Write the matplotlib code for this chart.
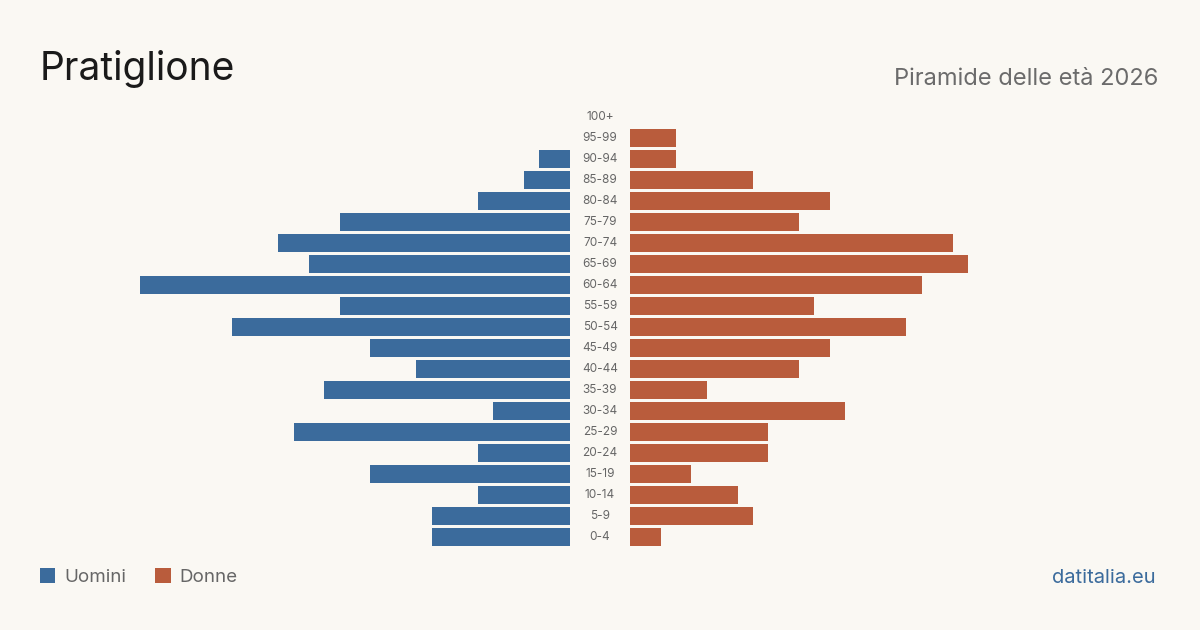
import matplotlib.pyplot as plt
import numpy as np

# age classes, bottom to top
age_groups = ["0-4", "5-9", "10-14", "15-19", "20-24", "25-29", "30-34", "35-39",
              "40-44", "45-49", "50-54", "55-59", "60-64", "65-69", "70-74", "75-79",
              "80-84", "85-89", "90-94", "95-99", "100+"]
men = [9, 9, 6, 13, 6, 18, 5, 16, 10, 13, 22, 15, 28, 17, 19, 15, 6, 3, 2, 0, 0]
women = [2, 8, 7, 4, 9, 9, 14, 5, 11, 13, 18, 12, 19, 22, 21, 11, 13, 8, 3, 3, 0]

BG = "#faf8f3"
BLUE = "#3b6b9c"
ORANGE = "#b95c3c"

plt.rcParams["font.family"] = ["Inter", "DejaVu Sans"]

fig = plt.figure(figsize=(12, 6.3), dpi=100, facecolor=BG)

W, H = 1200, 630
top_px, bot_px = 106.5, 547.5
ax_b = 1 - bot_px / H
ax_h = (bot_px - top_px) / H
xmax = 530 / 15.36

ax_l = fig.add_axes([40 / W, ax_b, 530 / W, ax_h])
ax_r = fig.add_axes([630 / W, ax_b, 530 / W, ax_h])

y = np.arange(len(age_groups))
bars_m = ax_l.barh(y, men, height=0.81, color=BLUE, label="Uomini")
bars_f = ax_r.barh(y, women, height=0.81, color=ORANGE, label="Donne")

ax_l.set_xlim(xmax, 0)
ax_r.set_xlim(0, xmax)
for ax in (ax_l, ax_r):
    ax.set_ylim(-0.5, len(age_groups) - 0.5)
    ax.set_facecolor("none")
    ax.axis("off")

# age labels in the gap between the two halves
for i, lab in enumerate(age_groups):
    ax_r.annotate(lab, xy=(0, i), xytext=(-30, 0), textcoords="offset pixels",
                  ha="center", va="center", fontsize=8.5, color="#666666")

fig.text(40 / W, 1 - 80 / H, "Pratiglione", fontsize=28, color="#1a1a1a",
         ha="left", va="baseline")
fig.text(1158 / W, 1 - 85 / H, "Piramide delle età 2026", fontsize=17,
         color="#6b6b6b", ha="right", va="baseline")
fig.text(1156 / W, 1 - 583 / H, "datitalia.eu", fontsize=14.5, color=BLUE,
         ha="right", va="baseline")

fig.legend(handles=[bars_m, bars_f], loc="center left",
           bbox_to_anchor=(32 / W, 1 - 577 / H), ncol=2, frameon=False,
           fontsize=13.5, labelcolor="#666666", handlelength=0.85,
           handleheight=0.85, handletextpad=0.45, columnspacing=1.55,
           borderaxespad=0)

fig.savefig("out.png", dpi=100, facecolor=BG)
